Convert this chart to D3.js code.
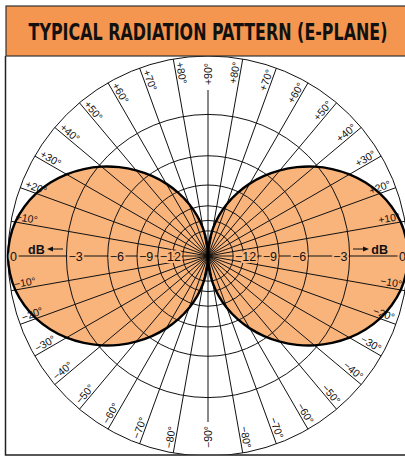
<!DOCTYPE html>
<html>
<head>
<meta charset="utf-8">
<script src="https://cdn.jsdelivr.net/npm/d3@7"></script>
<style>
  html, body { margin: 0; padding: 0; background: #fff; }
  svg { display: block; }
</style>
</head>
<body>
<svg id="chart" width="405" height="461"></svg>
<script>
// ---------- data ----------
const title = "TYPICAL RADIATION PATTERN (E-PLANE)";
// pattern: angle from broadside (deg) and relative level (dB), symmetric in all quadrants
const patternAngles = [0, 5, 10, 15, 20, 25, 30, 35, 40, 45, 50, 55, 60, 65, 70, 75, 80, 85, 90];
const patternDb     = [0, -0.05, -0.19, -0.44, -0.78, -1.22, -1.76, -2.41, -3.16, -4.04, -5.05, -6.22, -7.58, -9.19, -11.15, -13.7, -17.2, -23.3, -60];
// grid
const ringDb = [0, -3, -6, -9, -12, -15, -18];
const dbTickValues = [0, -3, -6, -9, -12];
const dbTickLabels = ["0", "\u22123", "\u22126", "\u22129", "\u221212"];
const spokeAngles = d3.range(0, 360, 10);
const angleTickValues = [10, 20, 30, 40, 50, 60, 70, 80, 90];

// ---------- layout ----------
const svg = d3.select("#chart");
const cx = 208, cy = 256, R = 200;
const lobeFill = "#F9B47C", titleFill = "#F4964F";
const rScale = d3.scaleLinear().domain([0, 1]).range([0, R]);
const amp = db => Math.pow(10, db / 20);
const rOf = db => rScale(amp(db));
const rad = deg => deg * Math.PI / 180;
const dbAt = phi => { // phi: math angle in deg
  let a = ((phi % 360) + 360) % 360;
  let off = Math.min(Math.abs(a), Math.abs(a - 180), Math.abs(a - 360));
  const i = patternAngles.indexOf(Math.round(off));
  return patternDb[i];
};

// clip to frame
svg.append("defs").append("clipPath").attr("id", "frameClip")
  .append("rect").attr("x", 6).attr("y", 56).attr("width", 399).attr("height", 399);

const g = svg.append("g").attr("clip-path", "url(#frameClip)")
  .append("g").attr("transform", `translate(${cx},${cy})`);

// lobes
const radial = d3.lineRadial()
  .angle(d => rad(90 - d.phi))
  .radius(d => rOf(d.db))
  .curve(d3.curveCatmullRomClosed);
const rightLobe = d3.range(-90, 90, 5).map(phi => ({phi, db: dbAt(phi)}));
const leftLobe = d3.range(90, 270, 5).map(phi => ({phi, db: dbAt(phi)}));
[rightLobe, leftLobe].forEach(pts => {
  g.append("path").attr("d", radial(pts)).attr("fill", lobeFill).attr("stroke", "none");
});

// rings
g.selectAll("circle.ring").data(ringDb).join("circle")
  .attr("class", "ring").attr("r", d => rOf(d))
  .attr("fill", "none").attr("stroke", "#111").attr("stroke-width", 1);

// angle labels data
const labelData = [];
angleTickValues.forEach(t => {
  [1, -1].forEach(s => {
    const txt = (s > 0 ? "+" : "\u2212") + t + "\u00B0";
    if (t === 90) {
      labelData.push({phi: s * 90, txt});
    } else {
      labelData.push({phi: s * t, txt});
      labelData.push({phi: 180 - s * t, txt});
    }
  });
});

// spokes
const spokeEnd = a => (a === 90 || a === 270) ? R - 34 : R;
g.selectAll("line.spoke").data(spokeAngles).join("line")
  .attr("class", "spoke")
  .attr("x1", 0).attr("y1", 0)
  .attr("x2", d => spokeEnd(d) * Math.cos(rad(d)))
  .attr("y2", d => -spokeEnd(d) * Math.sin(rad(d)))
  .attr("stroke", "#111").attr("stroke-width", 1);

// lobe outlines
[rightLobe, leftLobe].forEach(pts => {
  g.append("path").attr("d", radial(pts)).attr("fill", "none")
    .attr("stroke", "#000").attr("stroke-width", 2.4);
});

// angle labels
const lab = g.append("g").attr("font-family", "'Liberation Sans', Arial, sans-serif")
  .attr("font-size", 10.5).attr("fill", "#111");
labelData.forEach(d => {
  const c = Math.cos(rad(d.phi)), s = Math.sin(rad(d.phi));
  let r, rot, anchor, dy;
  if (Math.abs(c) < 0.01) {
    rot = -90; dy = "0.35em";
    if (s > 0) { r = R - 7; anchor = "end"; } else { r = R - 8; anchor = "start"; }
  } else if (c > 0) {
    r = R - 4; rot = -d.phi; anchor = "end"; dy = "-2";
  } else {
    r = R - 4; rot = 180 - d.phi; anchor = "start"; dy = "-2";
  }
  const x = r * c, y = -r * s;
  lab.append("text")
    .attr("transform", `translate(${x},${y}) rotate(${rot})`)
    .attr("text-anchor", anchor).attr("dy", dy)
    .text(d.txt);
});

// dB labels on horizontal axis
const dbl = g.append("g").attr("font-family", "'Liberation Sans', Arial, sans-serif")
  .attr("font-size", 12.5).attr("fill", "#111");
dbTickValues.forEach((v, i) => {
  const r = rOf(v);
  [-1, 1].forEach(side => {
    dbl.append("text")
      .attr("x", side < 0 ? -r + 2 : r - 2).attr("y", 0).attr("dy", "0.36em")
      .attr("text-anchor", side < 0 ? "start" : "end")
      .attr("stroke", lobeFill).attr("stroke-width", 4).attr("paint-order", "stroke")
      .text(dbTickLabels[i]);
  });
});

// "dB" arrows
const arrowY = -7;
[-1, 1].forEach(side => {
  const r0 = rOf(0);
  const dbX = side < 0 ? -r0 + 20 : r0 - 20;
  dbl.append("text").attr("x", dbX).attr("y", arrowY).attr("dy", "0.36em")
    .attr("text-anchor", side < 0 ? "start" : "end")
    .attr("font-weight", "bold").attr("font-size", 12.5).text("dB");
  const a0 = side < 0 ? -r0 + 39 : r0 - 39;
  const a1 = side < 0 ? -r0 + 55 : r0 - 55;
  g.append("line").attr("x1", a1).attr("y1", arrowY).attr("x2", a0 - side * 4).attr("y2", arrowY)
    .attr("stroke", "#111").attr("stroke-width", 1);
  g.append("path")
    .attr("d", `M${a0},${arrowY} L${a0 - side * 6},${arrowY - 2.5} L${a0 - side * 6},${arrowY + 2.5} Z`)
    .attr("fill", "#111");
});

// frame
svg.append("path").attr("d", "M5.5,56 L5.5,455 L405,455")
  .attr("fill", "none").attr("stroke", "#222").attr("stroke-width", 1.5);

// title
svg.append("rect").attr("x", 6).attr("y", 6).attr("width", 401).attr("height", 50)
  .attr("fill", titleFill).attr("stroke", "#333").attr("stroke-width", 1.2);
const tg = svg.append("g").attr("transform", "translate(208,40)");
const tt = tg.append("text").attr("x", 0).attr("y", 0).attr("text-anchor", "middle")
  .attr("font-family", "'Liberation Sans Narrow', 'DejaVu Sans Condensed', 'Arial Narrow', sans-serif")
  .attr("font-weight", "bold").attr("font-size", 23).attr("fill", "#111")
  .text(title);
const natural = tt.node().getComputedTextLength();
const sx = natural > 0 ? 359 / natural : 1;
tt.attr("transform", `scale(${sx},1)`);
</script>
</body>
</html>
